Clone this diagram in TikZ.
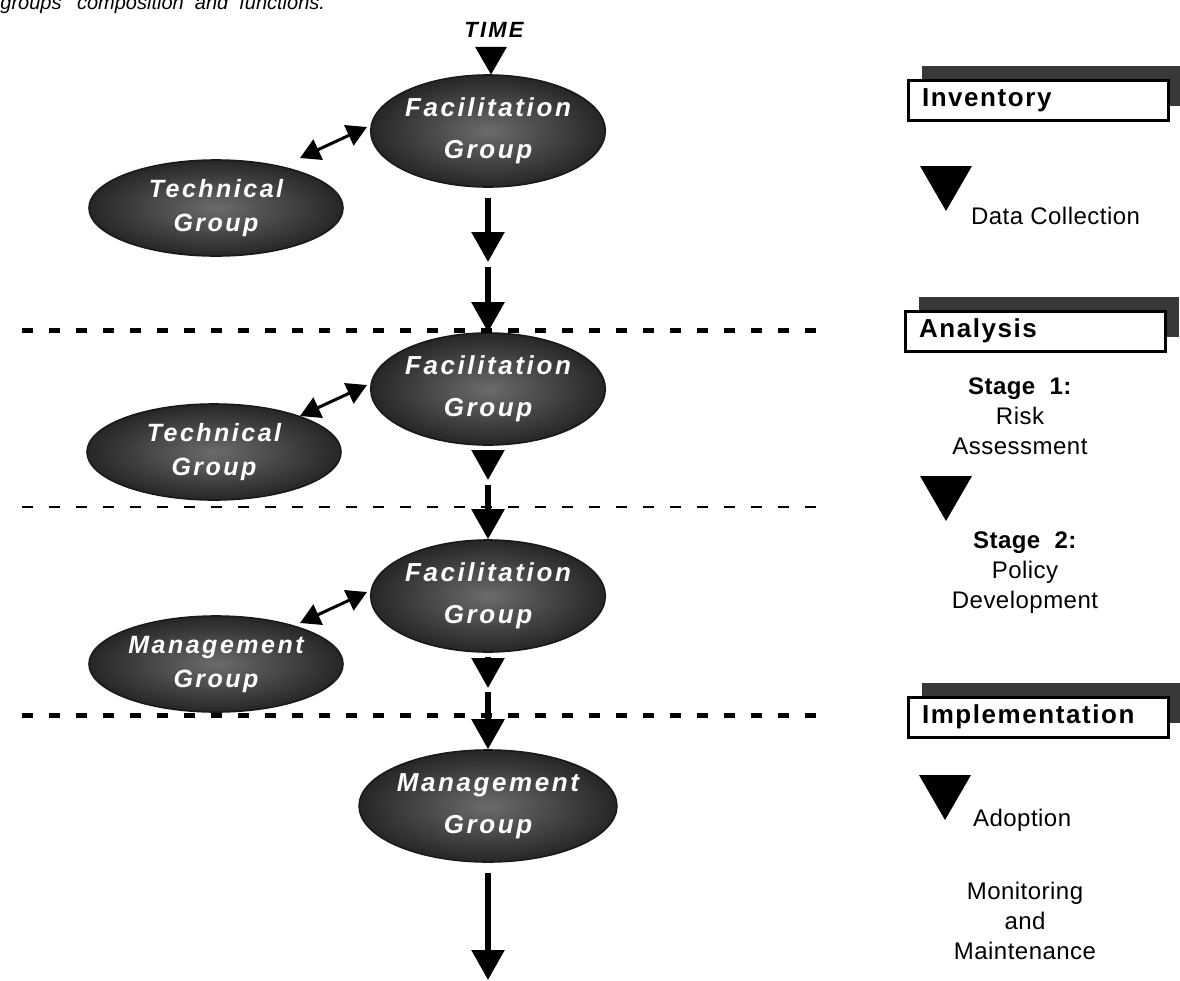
\documentclass[tikz,border=0pt]{standalone}
\usepackage{fontspec}
\setmainfont{Liberation Sans}
\newfontfamily\grpfont{Liberation Sans}[LetterSpace=10]
\newfontfamily\hdrfont{Liberation Sans}[LetterSpace=6]
\newfontfamily\txtfont{Liberation Sans}[LetterSpace=2]
\usetikzlibrary{shapes.geometric, arrows.meta, shadows}

\begin{document}
\begin{tikzpicture}[x=0.5pt, y=-0.5pt,
    group/.style={ellipse, draw=black!90, line width=0.8pt, shade, inner color=black!58, outer color=black!85, minimum width=116pt, minimum height=56pt, inner sep=0pt, align=center, text=white, font=\grpfont\bfseries\itshape\fontsize{13}{21}\selectfont},
    side/.style={group, minimum width=127pt, minimum height=48pt, font=\grpfont\bfseries\itshape\fontsize{12.5}{17}\selectfont},
    flow/.style={-{Triangle[length=15pt, width=16pt]}, line width=2.8pt},
    link/.style={{Triangle[length=10pt, width=11pt]}-{Triangle[length=10pt, width=11pt]}, line width=1.5pt},
    divider/.style={line width=2.5pt, dash pattern=on 5.5pt off 8pt},
    lightdivider/.style={line width=1.3pt, dash pattern=on 5.5pt off 8pt},
    phase/.style={draw, line width=1.5pt, fill=white, text width=116pt, inner xsep=7pt, inner ysep=0pt, minimum height=20pt, align=left, font=\hdrfont\bfseries\fontsize{13}{14}\selectfont, general shadow={fill=black!78, shadow xshift=7pt, shadow yshift=7pt}},
    downtri/.style={regular polygon, regular polygon sides=3, shape border rotate=180, fill=black, inner sep=0pt, minimum size=30pt},
    note/.style={align=center, font=\txtfont\fontsize{12}{15}\selectfont},
]
\useasboundingbox (0,0) rectangle (1180,981);

% caption and time axis
\node[anchor=base west, inner sep=0pt, font=\itshape\fontsize{10}{12}\selectfont] (cap) at (0,9) {groups'~~composition~~and~~functions.};
\node[font=\grpfont\bfseries\itshape\fontsize{11}{12}\selectfont] (time) at (494,30) {TIME};
\node[downtri, minimum size=18.5pt] (t0) at (491,56) {};

% groups
\node[group] (f1) at (488,131) {Facilitation\\Group};
\node[side] (tg1) at (216,208) {Technical\\Group};
\node[group] (f2) at (488,389) {Facilitation\\Group};
\node[side] (tg2) at (214,452) {Technical\\Group};
\node[group] (f3) at (488,596) {Facilitation\\Group};
\node[side] (mg1) at (216,664) {Management\\Group};
\node[group] (mg2) at (488,806) {Management\\Group};

% phase dividers
\draw[divider] (22,330) -- (830,330);
\draw[lightdivider] (22,507) -- (830,507);
\draw[divider] (22,715) -- (830,715);

% time flow
\coordinate (j1) at (488,262);
\coordinate (k1) at (488,267);
\coordinate (j2) at (488,480);
\coordinate (k2) at (488,485);
\coordinate (j3) at (488,688);
\coordinate (k3) at (488,692);
\coordinate (end) at (488,980);
\draw[flow, shorten <=5pt] (f1) -- (j1);
\draw[flow] (k1) -- (f2);
\draw[flow, shorten <=2pt] (f2) -- (j2);
\draw[flow] (k2) -- (f3);
\draw[flow, shorten <=2pt] (f3) -- (j3);
\draw[flow] (k3) -- (mg2);
\draw[flow, shorten <=5pt] (mg2) -- (end);

% exchanges
\coordinate (a1) at (300,158);
\coordinate (b1) at (367,127);
\coordinate (a2) at (300,416);
\coordinate (b2) at (367,385);
\coordinate (a3) at (300,623);
\coordinate (b3) at (367,592);
\draw[link] (a1) -- (b1);
\draw[link] (a2) -- (b2);
\draw[link] (a3) -- (b3);

% phases
\node[phase] (inv) at (1038,100) {Inventory};
\node[downtri] (d1) at (946,181) {};
\node[note, anchor=west] (dc) at (964,216) {Data Collection};

\node[phase] (ana) at (1035,331) {Analysis};
\node[note] (s1) at (1020,416) {\textbf{Stage~~1:}\\Risk\\Assessment};
\node[downtri] (d2) at (946,491) {};
\node[note] (s2) at (1025,573) {\textbf{Stage~~2:}\\Policy\\Development};

\node[phase] (imp) at (1038,717) {Implementation};
\node[downtri] (d3) at (945,790) {};
\node[note, anchor=west] (ad) at (966,820) {Adoption};
\node[note] (mm) at (1025,921) {Monitoring\\and\\Maintenance};
\end{tikzpicture}
\end{document}
